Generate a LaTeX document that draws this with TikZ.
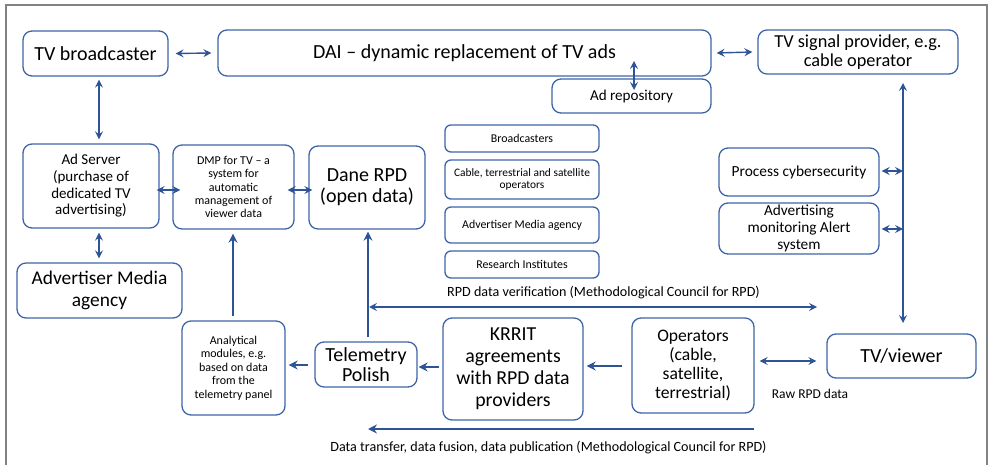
\documentclass[tikz,border=0pt]{standalone}
\usepackage{fontspec}
\setmainfont{Carlito}
\usetikzlibrary{arrows.meta,calc}
\definecolor{boxc}{RGB}{62,100,168}
\definecolor{arrc}{RGB}{47,84,150}
\definecolor{framec}{RGB}{130,130,130}
\newcommand{\fs}[2]{\fontsize{#1}{#2}\selectfont}
\tikzset{
  box/.style={draw=boxc, line width=1.3pt, rounded corners=9pt, align=center, inner sep=1pt, text=black},
  sbox/.style={box, rounded corners=6pt},
  dbl/.style={draw=arrc, line width=1.4pt, {Stealth[length=8pt,width=8pt,inset=3pt]}-{Stealth[length=8pt,width=8pt,inset=3pt]}},
  one/.style={draw=arrc, line width=2.2pt, -{Stealth[length=9pt,width=9pt,inset=3pt]}},
  lbl/.style={text=black, inner sep=0pt}
}
\begin{document}
\begin{tikzpicture}[x=1pt,y=-1pt]
\useasboundingbox (0,0) rectangle (988,465);
\draw[framec, line width=1.5pt] (6,465) -- (6,5) -- (987,5) -- (987,465);
% boxes
\node[box, minimum width=145pt, minimum height=45pt, font=\fs{20}{22}] (tvb) at (95.5,53.5) {TV broadcaster};
\node[box, minimum width=493pt, minimum height=46pt, font=\fs{20}{22}] (dai) at (464.5,53) {DAI -- dynamic replacement of TV ads};
\node[box, minimum width=200pt, minimum height=44pt, font=\fs{18.3}{19}] (tvs) at (858,52) {TV signal provider, e.g.\\cable operator};
\node[box, minimum width=159pt, minimum height=34pt, font=\fs{15.1}{16}] (adrep) at (631.5,96) {Ad repository};
\node[box, minimum width=136pt, minimum height=84pt, font=\fs{15}{16.7}] (adsrv) at (91,186) {Ad Server\\(purchase of\\dedicated TV\\advertising)};
\node[box, minimum width=121pt, minimum height=84pt, font=\fs{12}{13.2}] (dmp) at (233.5,187) {DMP for TV -- a\\system for\\automatic\\management of\\viewer data};
\node[box, minimum width=116pt, minimum height=83pt, font=\fs{20}{20.7}] (dane) at (367,187.5) {Dane RPD\\(open data)};
\node[sbox, minimum width=154pt, minimum height=27pt, font=\fs{11.9}{13}] (bro) at (522,138.5) {Broadcasters};
\node[sbox, minimum width=154pt, minimum height=39pt, font=\fs{11.4}{12.3}] (cab) at (522,179.5) {Cable, terrestrial and satellite\\operators};
\node[sbox, minimum width=154pt, minimum height=36pt, font=\fs{11.9}{13}] (ama) at (522,225) {Advertiser Media agency};
\node[sbox, minimum width=154pt, minimum height=27pt, font=\fs{11.9}{13}] (res) at (522,264.5) {Research Institutes};
\node[box, minimum width=160pt, minimum height=48pt, font=\fs{15.4}{17.2}] (pcs) at (799,172) {Process cybersecurity};
\node[box, minimum width=160pt, minimum height=51pt, font=\fs{15.3}{17.2}] (ams) at (799,228.5) {Advertising\\monitoring Alert\\system};
\node[box, minimum width=165pt, minimum height=55pt, font=\fs{19.4}{21.7}] (adv) at (99.5,290.5) {Advertiser Media\\agency};
\node[box, minimum width=103pt, minimum height=94pt, font=\fs{12}{13.5}] (ana) at (233.5,368) {Analytical\\modules, e.g.\\based on data\\from the\\telemetry panel};
\node[box, minimum width=102pt, minimum height=45pt, font=\fs{20}{20.7}] (tel) at (366,364.5) {Telemetry\\Polish};
\node[box, minimum width=140pt, minimum height=102pt, font=\fs{19.8}{21.9}] (krr) at (513,369) {KRRIT\\agreements\\with RPD data\\providers};
\node[box, minimum width=122pt, minimum height=95pt, font=\fs{17.6}{19.1}] (ope) at (693,365.5) {Operators\\(cable,\\satellite,\\terrestrial)};
\node[box, minimum width=149pt, minimum height=44pt, font=\fs{20}{22}] (tvv) at (901.5,356) {TV/viewer};
% labels
\node[lbl, font=\fs{14.1}{15}] (verlbl) at (603.5,293) {RPD data verification (Methodological Council for RPD)};
\node[lbl, font=\fs{14.1}{15}] (trlbl) at (548.5,448) {Data transfer, data fusion, data publication (Methodological Council for RPD)};
\node[lbl, font=\fs{13.5}{14}] (rawlbl) at (810,394) {Raw RPD data};
% coordinates
\coordinate (adA) at (634,61);
\coordinate (adB) at (634,90);
\coordinate (vtop) at (903,83);
\coordinate (vbot) at (903,323);
\coordinate (v1) at (903,171);
\coordinate (v2) at (903,229);
\coordinate (verL) at (369,307);
\coordinate (verR) at (817,307);
\coordinate (trR) at (754,429);
\coordinate (trL) at (368,429);
% connectors
\draw[dbl] ([xshift=7pt]tvb.east) -- ([xshift=-6pt]dai.west);
\draw[dbl] ([xshift=5pt]dai.east) -- ([xshift=-5pt]tvs.west);
\draw[dbl] (adA) -- (adB);
\draw[dbl] ($(tvb.south)+(3.5,3)$) -- ($(adsrv.north)+(8,-4)$);
\draw[dbl] ($(adsrv.south)+(8,4)$) -- ($(adv.north)+(-0.5,-4)$);
\draw[dbl] ($(adsrv.east)+(-3,4)$) -- ($(dmp.west)+(8,3)$);
\draw[dbl] ($(dmp.east)+(-7,3)$) -- ($(dane.west)+(4,2.5)$);
\draw[dbl] (vtop) -- (vbot);
\draw[dbl] ($(pcs.east)+(2,-1)$) -- (v1);
\draw[dbl] ($(ams.east)+(2,0.5)$) -- (v2);
\draw[dbl] ($(ope.east)+(5,-4.5)$) -- ($(ope.east -| tvv.west)+(-10,-4.5)$);
\draw[one, line width=2pt] ($(ana.north)+(-0.5,-4)$) -- ($(dmp.south)+(-0.5,4)$);
\draw[one, line width=2.8pt] ($(tel.north)+(2,-4)$) -- ($(dane.south)+(1,2)$);
\draw[one] ($(tel.west)+(-6,0.5)$) -- ($(tel.west -| ana.east)+(3,0.5)$);
\draw[one] ($(krr.west)+(-3,-2)$) -- ($(krr.west -| tel.east)+(1,-2)$);
\draw[one] ($(ope.west)+(-9,0.5)$) -- ($(ope.west -| krr.east)+(3,0.5)$);
\draw[dbl, line width=2pt] (verL) -- (verR);
\draw[one] (trR) -- (trL);
\end{tikzpicture}
\end{document}
